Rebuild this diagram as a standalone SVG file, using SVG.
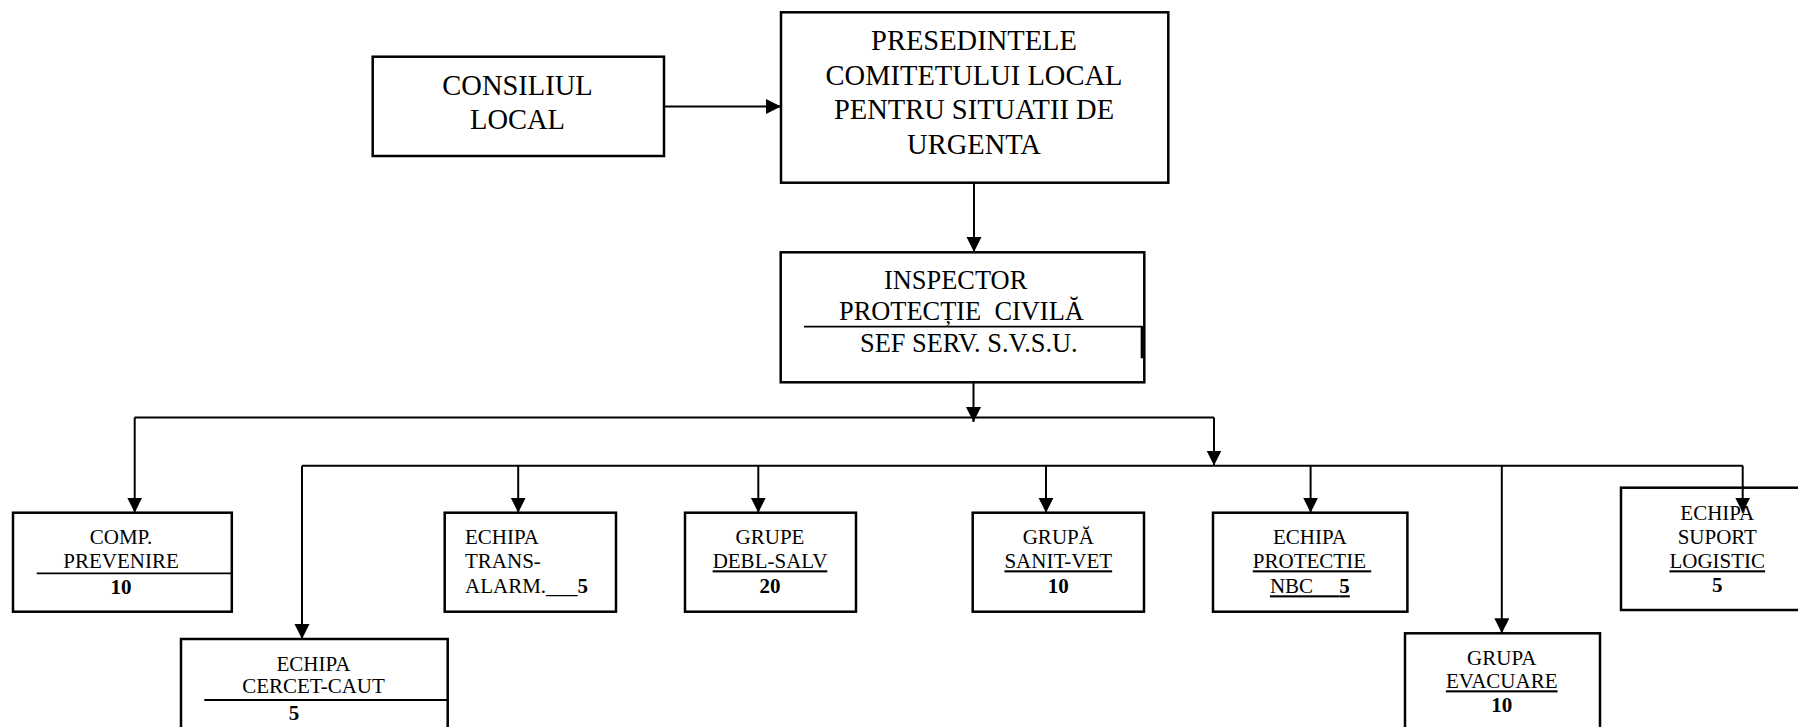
<svg xmlns="http://www.w3.org/2000/svg" width="1798" height="727" viewBox="0 0 1798 727" font-family="'Liberation Serif', serif">
<style>
.box{fill:#fff;stroke:#000;stroke-width:2.5}
.ln{fill:none;stroke:#000;stroke-width:2}
.rule{fill:none;stroke:#000;stroke-width:1.8}
text{font-family:'Liberation Serif',serif;fill:#000}
.big{font-size:28.5px;text-anchor:middle}
.mid{font-size:26.4px}
.sm{font-size:21px}
.c{text-anchor:middle}
.b{font-weight:bold}
.u{text-decoration:underline}
</style>
<defs>
<marker id="ah" markerUnits="userSpaceOnUse" markerWidth="16" markerHeight="16" refX="15" refY="7.5" orient="auto">
<path d="M0,0 L15,7.5 L0,15 z" fill="#000"/>
</marker>
</defs>

<g id="connectors">
<line class="ln" x1="664" y1="106.5" x2="781" y2="106.5" marker-end="url(#ah)"/>
<line class="ln" x1="974" y1="183" x2="974" y2="252" marker-end="url(#ah)"/>
<line class="ln" x1="973.5" y1="375" x2="973.5" y2="422" marker-end="url(#ah)"/>
<polyline class="ln" points="134.7,417.5 1214,417.5"/>
<line class="ln" x1="134.7" y1="417.5" x2="134.7" y2="512.7" marker-end="url(#ah)"/>
<line class="ln" x1="1214" y1="417.5" x2="1214" y2="465.5" marker-end="url(#ah)"/>
<polyline class="ln" points="302,465.7 1742.7,465.7"/>
<line class="ln" x1="302" y1="465.7" x2="302" y2="639" marker-end="url(#ah)"/>
<line class="ln" x1="518.2" y1="465.7" x2="518.2" y2="512.7" marker-end="url(#ah)"/>
<line class="ln" x1="758.3" y1="465.7" x2="758.3" y2="512.7" marker-end="url(#ah)"/>
<line class="ln" x1="1046" y1="465.7" x2="1046" y2="512.7" marker-end="url(#ah)"/>
<line class="ln" x1="1310.6" y1="465.7" x2="1310.6" y2="512.7" marker-end="url(#ah)"/>
<line class="ln" x1="1501.8" y1="465.7" x2="1501.8" y2="633.3" marker-end="url(#ah)"/>
</g>

<g id="consiliul">
<rect class="box" x="372.7" y="56.7" width="291.3" height="99.3"/>
<text class="big" x="517.5" y="95">CONSILIUL</text>
<text class="big" x="517.5" y="129.3">LOCAL</text>
</g>

<g id="presedintele">
<rect class="box" x="781" y="12.3" width="387.3" height="170.4"/>
<text class="big" x="974" y="50">PRESEDINTELE</text>
<text class="big" x="974" y="84.5">COMITETULUI LOCAL</text>
<text class="big" x="974" y="119">PENTRU SITUATII DE</text>
<text class="big" x="974" y="153.5">URGENTA</text>
</g>

<g id="inspector">
<rect class="box" x="780.7" y="252.3" width="363.6" height="130"/>
<text class="mid" x="884" y="289.3">INSPECTOR</text>
<text class="mid" x="839" y="320" style="white-space:pre">PROTECȚIE  CIVILĂ</text>
<line class="rule" x1="804" y1="326.7" x2="1142" y2="326.7"/>
<line x1="1142" y1="326" x2="1142" y2="358.3" stroke="#000" stroke-width="2.7"/>
<text class="mid" x="860" y="351.7">SEF SERV. S.V.S.U.</text>
</g>

<g id="comp-prevenire">
<rect class="box" x="13" y="512.7" width="218.8" height="99"/>
<text class="sm c" x="121" y="544">COMP.</text>
<text class="sm c" x="121" y="568.3">PREVENIRE</text>
<line class="rule" x1="36.7" y1="573.3" x2="231.8" y2="573.3"/>
<text class="sm c b" x="121" y="593.8">10</text>
</g>

<g id="echipa-cercet-caut">
<rect class="box" x="181" y="639" width="266.7" height="100"/>
<text class="sm c" x="313.5" y="670.7">ECHIPA</text>
<text class="sm c" x="313.5" y="693.3">CERCET-CAUT</text>
<line class="rule" x1="204.3" y1="700" x2="447.7" y2="700"/>
<text class="sm c b" x="294" y="720">5</text>
</g>

<g id="echipa-trans-alarm">
<rect class="box" x="444.7" y="512.7" width="171.3" height="99"/>
<text class="sm" x="465" y="544">ECHIPA</text>
<text class="sm" x="465" y="568.3">TRANS-</text>
<text class="sm" x="465" y="593.3">ALARM.___<tspan class="b">5</tspan></text>
</g>

<g id="grupe-debl-salv">
<rect class="box" x="685" y="512.7" width="171" height="99"/>
<text class="sm c" x="770" y="544">GRUPE</text>
<text class="sm c u" x="770" y="568.3">DEBL-SALV</text>
<text class="sm c b" x="770" y="593.3">20</text>
</g>

<g id="grupa-sanit-vet">
<rect class="box" x="972.7" y="512.7" width="171.3" height="99"/>
<text class="sm c" x="1058.3" y="544">GRUPĂ</text>
<text class="sm c u" x="1058.3" y="568.3">SANIT-VET</text>
<text class="sm c b" x="1058.3" y="593.3">10</text>
</g>

<g id="echipa-protectie-nbc">
<rect class="box" x="1213" y="512.7" width="194.4" height="99"/>
<text class="sm c" x="1310" y="544">ECHIPA</text>
<text class="sm u" x="1252.8" y="568.3" style="white-space:pre">PROTECTIE </text>
<text class="sm u" x="1269.9" y="593.3" style="white-space:pre">NBC     <tspan class="b">5</tspan></text>
</g>

<g id="grupa-evacuare">
<rect class="box" x="1405" y="633.3" width="195" height="100"/>
<text class="sm c" x="1501.7" y="665">GRUPA</text>
<text class="sm c u" x="1501.7" y="688.3">EVACUARE</text>
<text class="sm c b" x="1501.7" y="711.7">10</text>
</g>

<g id="echipa-suport-logistic">
<rect class="box" x="1621" y="487.7" width="190" height="122.3"/>
<text class="sm c" x="1717.3" y="520">ECHIPA</text>
<text class="sm c" x="1717.3" y="544">SUPORT</text>
<text class="sm c u" x="1717.3" y="568.3">LOGISTIC</text>
<text class="sm c b" x="1717.3" y="591.7">5</text>
</g>

<g id="connector-over">
<line class="ln" x1="1742.7" y1="465.7" x2="1742.7" y2="512.7" marker-end="url(#ah)"/>
</g>
</svg>
